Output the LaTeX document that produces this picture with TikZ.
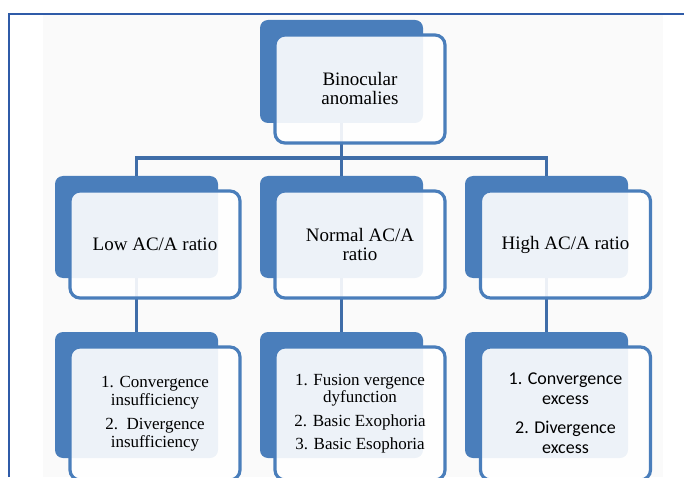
\documentclass[tikz,border=0pt]{standalone}
\usepackage{fontspec}
\setmainfont{Liberation Serif}
\newfontfamily\mysans{Carlito}
\definecolor{boxblue}{HTML}{4A7EBB}
\definecolor{linkblue}{HTML}{3F6DA8}
\definecolor{framecol}{HTML}{2F5BA8}
\newcommand{\mybig}{\fontsize{19}{19}\selectfont}
\newcommand{\mysmall}{\fontsize{17}{17.5}\selectfont}
\newcommand{\mysanssize}{\mysans\fontsize{18}{20}\selectfont}
\begin{document}
\begin{tikzpicture}[%
                x=1pt, y=1pt,
                myback/.style={shape=rectangle, rounded corners=8pt, fill=boxblue, minimum width=163pt, inner sep=0pt},
                myfront/.style={shape=rectangle, rounded corners=10pt, draw=boxblue, line width=3.2pt, fill=white, fill opacity=0.9, text opacity=1, minimum width=170pt, align=center, inner sep=0pt},
                mylink/.style={draw=linkblue, line width=3.5pt}
            ]
            \useasboundingbox (0,0) rectangle (684,477);
            \clip (0,0) rectangle (684,477);
            \fill [black!2] (43,0) rectangle (663,463);
            \draw [framecol, line width=1.2pt] (9,0) -- (9,463) -- (684,463);
            % back boxes
            \node [myback, minimum height=103pt] (topback) at (341.5,405.5) {};
            \foreach \myname/\myx in {low/136.5, normal/341.5, high/546.5} {
                \node [myback, minimum height=102pt] (\myname back) at (\myx,250) {};
                \node [myback, minimum height=126pt] (\myname listback) at (\myx,82) {};
            }
            % connectors
            \draw [mylink] (topback.south) -- ++(0,-35) -| (lowback.north);
            \draw [mylink] (topback.south) -- ++(0,-35) -| (highback.north);
            \draw [mylink] (topback.south) -- (normalback.north);
            \foreach \myname in {low,normal,high}
                \draw [mylink] (\myname back.south) -- (\myname listback.north);
            % front boxes
            \node [myfront, minimum height=108pt, font=\mybig] (top) at (360,388) {Binocular\\anomalies};
            \node [myfront, minimum height=107pt, font=\mybig] (low) at (155,232.5) {Low AC/A ratio};
            \node [myfront, minimum height=107pt, font=\mybig] (normal) at (360,232.5) {Normal AC/A\\ratio};
            \node [myfront, minimum height=107pt, font=\mybig] (high) at (565.5,232.5) {High AC/A ratio};
            \node [myfront, minimum height=133pt, font=\mysmall] (lowlist) at (155,63.5)
                {1. Convergence\\insufficiency\\[7pt]2.~~Divergence\\insufficiency};
            \node [myfront, minimum height=133pt, font=\mysmall] (normallist) at (360,63.5)
                {1. Fusion vergence\\dyfunction\\[6pt]2. Basic Exophoria\\[6pt]3. Basic Esophoria};
            \node [myfront, minimum height=133pt, font=\mysanssize] (highlist) at (565.5,63.5)
                {1. Convergence\\excess\\[9pt]2. Divergence\\excess};
        \end{tikzpicture}
\end{document}
